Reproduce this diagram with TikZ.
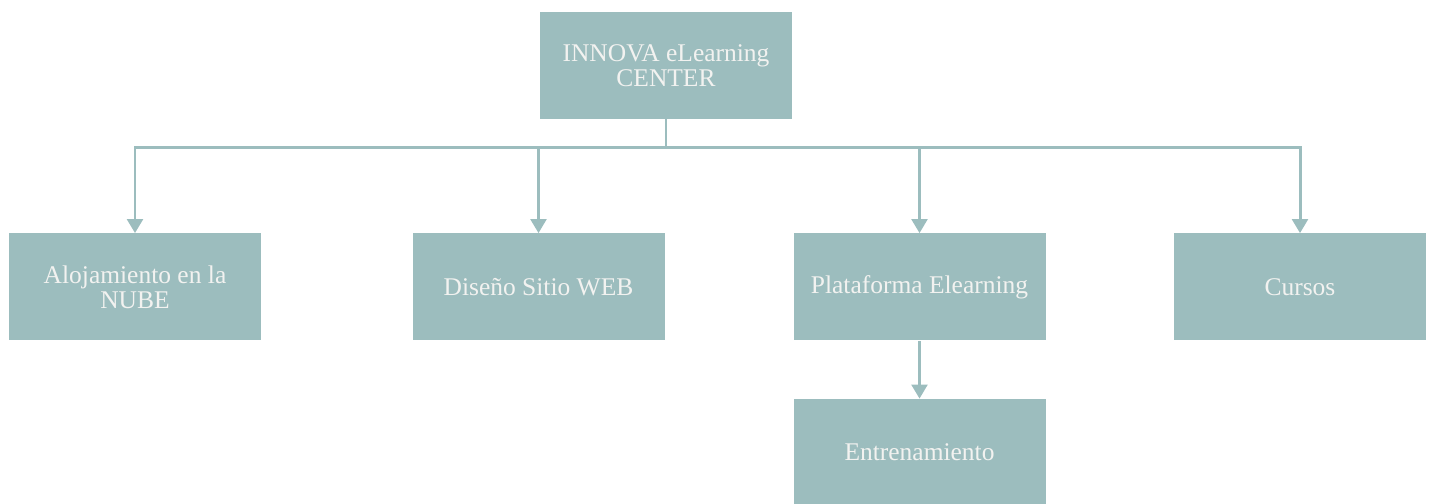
\documentclass[tikz,border=0pt]{standalone}
\usepackage{fontspec}
\setmainfont{Liberation Serif}
\usetikzlibrary{arrows.meta}
\definecolor{boxteal}{HTML}{9CBDBE}
\definecolor{boxtext}{HTML}{F2F2F0}
\begin{document}
\begin{tikzpicture}

        \def \boxw {5.04cm}
        \def \boxh {2.14cm}
        \def \rowy {4.34}

        \tikzset{orgbox/.style={rectangle,fill=boxteal,draw=none,minimum width=\boxw,minimum height=\boxh,
                text=boxtext,align=center,font=\fontsize{14.5}{14}\selectfont,inner sep=2pt},
                 link/.style={draw=boxteal,line width=1.7pt,-{Triangle[width=9pt,length=8pt]}}}

        \useasboundingbox (0,0) rectangle (28.62,10.08);

        % Draw boxes
        \node (top) at (13.32, 8.77) [orgbox] {INNOVA eLearning\\CENTER};
        \node (nube) at (2.70, \rowy) [orgbox] {Alojamiento en la\\NUBE};
        \node (web) at (10.77, \rowy) [orgbox] {Diseño Sitio WEB};
        \node (plat) at (18.39, \rowy) [orgbox] {Plataforma Elearning};
        \node (cursos) at (26.00, \rowy) [orgbox] {Cursos};
        \node (entr) at (18.39, 1.03) [orgbox] {Entrenamiento};
        \coordinate (bus) at (0, 7.12);

        % Draw edges
        \foreach \c in {nube,web,plat,cursos} {
            \draw[link] (top.south) -- (top.south |- bus) -| (\c.north);
        }
        \draw[link] (plat) -- (entr);

    \end{tikzpicture}
\end{document}
